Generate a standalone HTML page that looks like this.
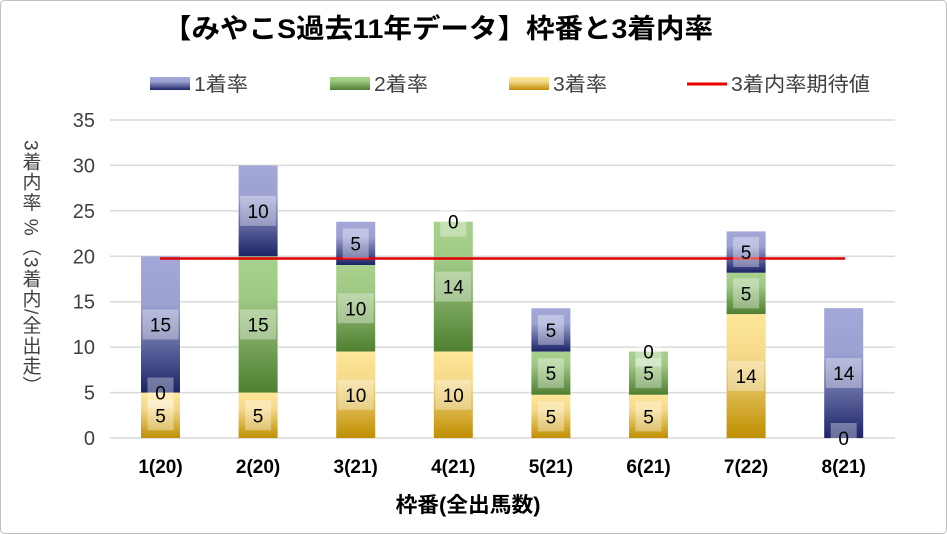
<!DOCTYPE html>
<html><head><meta charset="utf-8"><style>
body{margin:0;background:#fff;}
svg{display:block;font-family:"Liberation Sans","Noto Sans CJK JP",sans-serif;}
</style></head><body>
<svg id="s" width="947" height="534" xmlns="http://www.w3.org/2000/svg">
<defs>
<linearGradient id="g1" x1="0" y1="0" x2="0" y2="1"><stop offset="0" stop-color="#a3a8d8"/><stop offset="0.35" stop-color="#9ca1d2"/><stop offset="1" stop-color="#1c2466"/></linearGradient>
<linearGradient id="g2" x1="0" y1="0" x2="0" y2="1"><stop offset="0" stop-color="#a9d18e"/><stop offset="0.3" stop-color="#9fc985"/><stop offset="1" stop-color="#4f7f30"/></linearGradient>
<linearGradient id="g3" x1="0" y1="0" x2="0" y2="1"><stop offset="0" stop-color="#ffe699"/><stop offset="0.35" stop-color="#f5d98a"/><stop offset="1" stop-color="#bf8f00"/></linearGradient>
</defs>
<rect x="0.5" y="0.5" width="946" height="533" rx="4" fill="#fff" stroke="#bfbfbf"/>
<text x="438" y="38" font-size="27" font-weight="bold" text-anchor="middle" fill="#000" textLength="550" lengthAdjust="spacingAndGlyphs">【みやこS過去11年データ】枠番と3着内率</text>
<g id="grid"></g>
<g id="bars"></g>
<g font-size="20" fill="#404040">
<rect x="150" y="77" width="40" height="13" fill="url(#g1)"/><text x="194" y="91" textLength="54" lengthAdjust="spacingAndGlyphs">1着率</text>
<rect x="330" y="77" width="40" height="13" fill="url(#g2)"/><text x="374" y="91" textLength="54" lengthAdjust="spacingAndGlyphs">2着率</text>
<rect x="509" y="77" width="40" height="13" fill="url(#g3)"/><text x="553" y="91" textLength="54" lengthAdjust="spacingAndGlyphs">3着率</text>
<line x1="687" y1="84" x2="727" y2="84" stroke="#e00" stroke-width="3"/><text x="731" y="91" textLength="139" lengthAdjust="spacingAndGlyphs">3着内率期待値</text>
</g>
<text x="468" y="512" font-size="21" font-weight="bold" text-anchor="middle" fill="#000" textLength="145" lengthAdjust="spacingAndGlyphs">枠番(全出馬数)</text>
<text x="30" y="140" font-size="19" fill="#404040" style="writing-mode:vertical-rl;glyph-orientation-vertical:0" textLength="255" lengthAdjust="spacing">3着内率 %（3着内/全出走）</text>
</svg>
<script>
const Y=v=>438-9.086*v;
let g='';
for(let v=0;v<=35;v+=5){const y=Y(v);g+=`<line x1="110" x2="895" y1="${y}" y2="${y}" stroke="#d9d9d9" stroke-width="1.5"/><text x="95" y="${y+7}" font-size="20" text-anchor="end" fill="#404040">${v}</text>`;}
document.getElementById('grid').innerHTML=g;
const data=[[5,0,15,'5','0','15'],[5,15,10,'5','15','10'],[9.52,9.52,4.76,'10','10','5'],[9.52,14.29,0,'10','14','0'],[4.76,4.76,4.76,'5','5','5'],[4.76,4.76,0,'5','5','0'],[13.64,4.55,4.55,'14','5','5'],[0,0,14.29,'','0','14']];
const xl=['1(20)','2(20)','3(21)','4(21)','5(21)','6(21)','7(22)','8(21)'];
let b='',l='';
data.forEach((d,i)=>{
 const cx=160.5+97.6*i, x=cx-19.5;
 let base=0;
 const grads=['g3','g2','g1'];
 for(let k=0;k<3;k++){
  const v=d[k];
  if(v>0){b+=`<rect x="${x}" y="${Y(base+v)}" width="39" height="${9.086*v}" fill="url(#${grads[k]})"/>`;}
  const lab=d[3+k];
  if(lab!==''){
   const ly=Y(base+v/2);
   const w=lab.length>1?36:26;
   l+=`<rect x="${cx-w/2}" y="${ly-15}" width="${w}" height="30" fill="#fff" fill-opacity="0.35"/><text x="${cx}" y="${ly+7}" font-size="19" text-anchor="middle" fill="#000">${lab}</text>`;
  }
  base+=v;
 }
 l+=`<text x="${cx}" y="473" font-size="19" font-weight="bold" text-anchor="middle" fill="#000">${xl[i]}</text>`;
});
b+=`<line x1="160" x2="845" y1="258.5" y2="258.5" stroke="#e00000" stroke-width="2.5"/>`;
document.getElementById('bars').innerHTML=b+l;
</script>
</body></html>
